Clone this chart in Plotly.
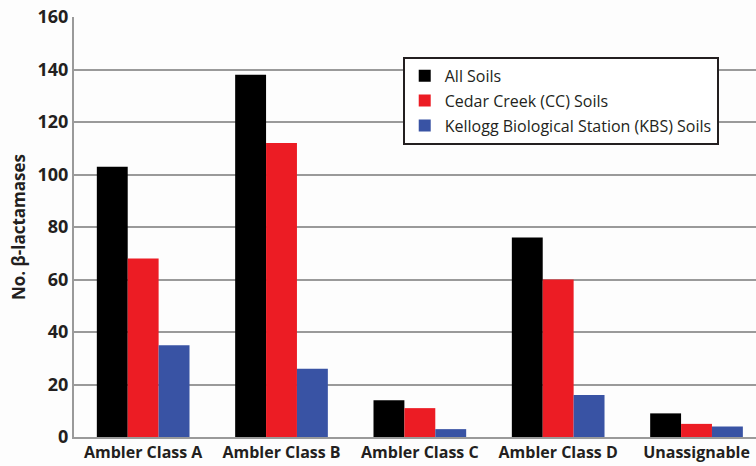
import plotly.graph_objects as go

categories = ["Ambler Class A", "Ambler Class B", "Ambler Class C", "Ambler Class D", "Unassignable"]
all_soils = [103, 138, 14, 76, 9]
cc_soils = [68, 112, 11, 60, 5]
kbs_soils = [35, 26, 3, 16, 4]

series = [
    ("All Soils", all_soils, "#000000"),
    ("Cedar Creek (CC) Soils", cc_soils, "#ec1c24"),
    ("Kellogg Biological Station (KBS) Soils", kbs_soils, "#3953a4"),
]

fig = go.Figure()
for name, vals, color in series:
    fig.add_trace(go.Bar(x=categories, y=vals, name=name, legendgroup=name,
                         marker=dict(color=color, line=dict(width=0))))

fig.update_layout(
    width=756, height=466,
    margin=dict(l=74, r=0, t=17, b=29, autoexpand=False),
    paper_bgcolor="#fdfdfd", plot_bgcolor="#fdfdfd",
    barmode="group", bargap=0.33, bargroupgap=0,
    font=dict(family="Open Sans", color="#231f20"),
    legend=dict(
        x=0.482, y=0.905, xanchor="left", yanchor="top",
        bgcolor="#ffffff", bordercolor="#231f20", borderwidth=2,
        font=dict(size=16, family="Open Sans", color="#231f20"),
        itemwidth=30, tracegroupgap=1,
    ),
    xaxis=dict(
        range=[-0.5, 4.43], showgrid=False, showline=True, linecolor="#9a9a9a", linewidth=2,
        tickfont=dict(size=16, family="Open Sans", weight="bold", color="#231f20"),
        ticks="", automargin=False,
    ),
    yaxis=dict(
        range=[0, 160], dtick=20, showgrid=True, gridcolor="#9a9a9a", gridwidth=1.5,
        showline=True, linecolor="#9a9a9a", linewidth=2, zeroline=False,
        tickfont=dict(size=18, family="Open Sans", weight="bold", color="#231f20"),
        title=dict(text="No. β-lactamases", font=dict(size=17, family="Open Sans", weight="bold", color="#231f20"), standoff=8),
        ticks="", automargin=False,
    ),
)

fig.write_html("out.html", config={"displayModeBar": False},
               post_script="document.body.style.margin='0';")
